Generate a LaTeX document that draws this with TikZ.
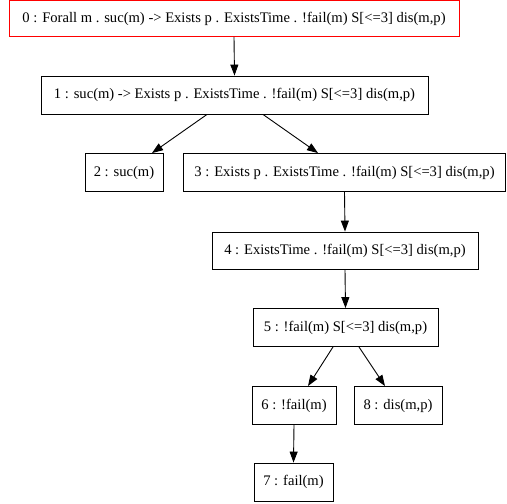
\documentclass[tikz,border=0pt]{standalone}
\usepackage{fontspec}
\setmainfont{Liberation Serif}
\usetikzlibrary{arrows.meta}
\begin{document}
\begin{tikzpicture}[x=1pt,y=-1pt,
  box/.style={draw=black,line width=0.9pt,minimum height=37pt,inner sep=0pt,font=\fontsize{14.6}{17}\selectfont,anchor=center},
  edge/.style={line width=0.9pt,-{Triangle[length=11pt,width=8pt]}}]
\useasboundingbox (0,0) rectangle (507,504);
\node[box,draw=red,minimum width=450pt,minimum height=36pt] (n0) at (234,18.5) {0 : Forall m . suc(m) -> Exists p . ExistsTime . !fail(m) S[<=3] dis(m,p)};
\node[box,minimum width=387pt,minimum height=38pt] (n1) at (234.5,95) {1 : suc(m) -> Exists p . ExistsTime . !fail(m) S[<=3] dis(m,p)};
\node[box,minimum width=78pt,minimum height=38pt] (n2) at (124,172.5) {2 : suc(m)};
\node[box,minimum width=322pt,minimum height=38pt] (n3) at (344.5,172.5) {3 : Exists p . ExistsTime . !fail(m) S[<=3] dis(m,p)};
\node[box,minimum width=266pt] (n4) at (345,250.5) {4 : ExistsTime . !fail(m) S[<=3] dis(m,p)};
\node[box,minimum width=185pt,minimum height=38pt] (n5) at (345.5,327.5) {5 : !fail(m) S[<=3] dis(m,p)};
\node[box,minimum width=84pt,minimum height=38pt] (n6) at (294,405.5) {6 : !fail(m)};
\node[box,minimum width=88pt,minimum height=38pt] (n8) at (398,405.5) {8 : dis(m,p)};
\node[box,minimum width=79pt,minimum height=38pt] (n7) at (293.5,482) {7 : fail(m)};
\draw[edge] (n0.south) -- (n1.north);
\draw[edge] ([xshift=-27.5pt]n1.south) -- ([xshift=28pt]n2.north);
\draw[edge] ([xshift=28.5pt]n1.south) -- ([xshift=-26.5pt]n3.north);
\draw[edge] (n3.south) -- (n4.north);
\draw[edge] (n4.south) -- (n5.north);
\draw[edge] ([xshift=-12.5pt]n5.south) -- ([xshift=14pt]n6.north);
\draw[edge] ([xshift=13.5pt]n5.south) -- ([xshift=-13pt]n8.north);
\draw[edge] (n6.south) -- (n7.north);
\end{tikzpicture}
\end{document}
